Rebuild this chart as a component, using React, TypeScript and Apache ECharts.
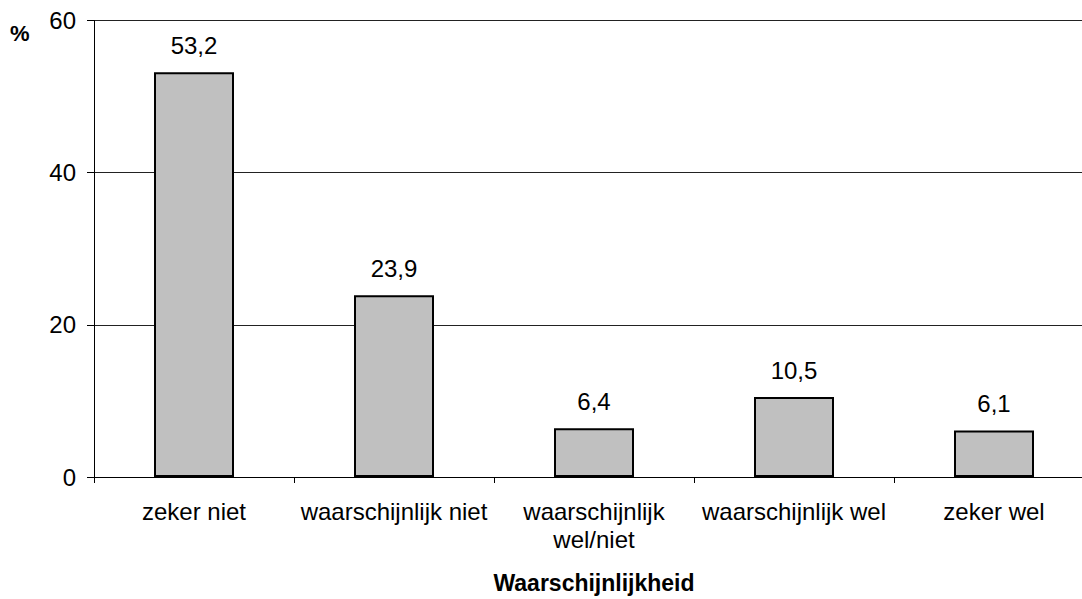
import React, { useEffect, useRef } from "react";
import * as echarts from "echarts";

const categories = [
  "zeker niet",
  "waarschijnlijk niet",
  "waarschijnlijk\nwel/niet",
  "waarschijnlijk wel",
  "zeker wel",
];
const values = [53.2, 23.9, 6.4, 10.5, 6.1];
const yTicks = { min: 0, max: 60, interval: 20 };
const xTitle = "Waarschijnlijkheid";
const yUnit = "%";

const FONT = "Arial, 'Liberation Sans', Helvetica, sans-serif";

export default function App() {
  const ref = useRef<HTMLDivElement>(null);
  useEffect(() => {
    if (!ref.current) return;
    const chart = echarts.init(ref.current, null, { renderer: "svg" });
    chart.setOption({
      animation: false,
      backgroundColor: "#ffffff",
      textStyle: { fontFamily: FONT },
      grid: {
        left: 94,
        top: 20.5,
        width: 1000,
        height: 456.5,
        containLabel: false,
        outerBoundsMode: "none",
      },
      graphic: [
        {
          type: "text",
          left: 10,
          top: 22,
          style: { text: yUnit, font: `bold 22px ${FONT}`, fill: "#000" },
        },
      ],
      xAxis: {
        type: "category",
        data: categories,
        name: xTitle,
        nameLocation: "middle",
        nameGap: 94,
        nameTextStyle: { fontSize: 23, fontWeight: "bold", color: "#000", fontFamily: FONT },
        axisLine: { lineStyle: { color: "#000", width: 1 } },
        axisTick: { show: true, length: 6, lineStyle: { color: "#000" } },
        axisLabel: {
          interval: 0,
          fontSize: 24,
          color: "#000",
          margin: 20,
          lineHeight: 28,
          fontFamily: FONT,
        },
      },
      yAxis: {
        type: "value",
        min: yTicks.min,
        max: yTicks.max,
        interval: yTicks.interval,
        axisLine: { show: true, lineStyle: { color: "#000", width: 1 } },
        axisTick: { show: true, length: 7, lineStyle: { color: "#000" } },
        axisLabel: { fontSize: 24, color: "#000", margin: 18, fontFamily: FONT },
        splitLine: { show: true, lineStyle: { color: "#222", width: 1 } },
      },
      series: [
        {
          type: "bar",
          data: values,
          barWidth: "40%",
          itemStyle: { color: "#c0c0c0", borderColor: "#000", borderWidth: 2 },
          label: {
            show: true,
            position: "top",
            distance: 15,
            fontSize: 24,
            color: "#000",
            fontFamily: FONT,
            formatter: (p: any) => String(p.value).replace(".", ","),
          },
        },
      ],
    });
    return () => chart.dispose();
  }, []);
  return <div ref={ref} style={{ width: 1082, height: 599, position: "absolute", left: 0, top: 0 }} />;
}
